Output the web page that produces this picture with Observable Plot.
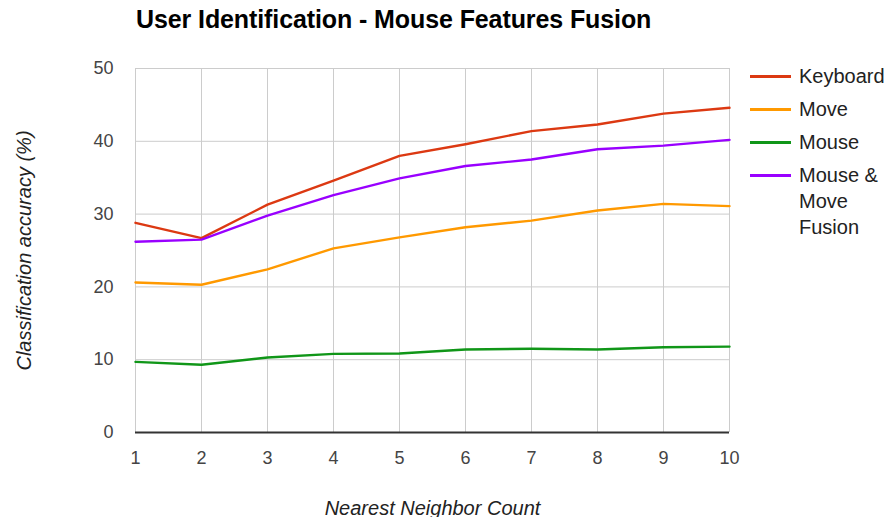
<!DOCTYPE html>
<html>
<head>
<meta charset="utf-8">
<script src="https://cdn.jsdelivr.net/npm/d3@7"></script>
<script src="https://cdn.jsdelivr.net/npm/@observablehq/plot@0.6"></script>
<style>
  html, body { margin: 0; padding: 0; background: #fff; }
  #wrap { position: relative; width: 888px; height: 517px; font-family: "Liberation Sans", Arial, sans-serif; }
  #title { position: absolute; left: 136px; top: 5px; font-size: 25px; font-weight: bold; color: #000; white-space: nowrap; letter-spacing: -0.1px; }
  #legend { position: absolute; left: 750px; top: 63px; font-size: 20px; color: #222; }
  .item { display: flex; align-items: flex-start; margin-bottom: 7px; }
  .sw { width: 41px; height: 3px; margin-top: 12px; margin-right: 8px; flex: none; }
  .lbl { line-height: 26px; }
</style>
</head>
<body>
<div id="wrap">
  <div id="chart"></div>
  <div id="title">User Identification - Mouse Features Fusion</div>
  <div id="legend"></div>
</div>
<script>
const neighbors = [1, 2, 3, 4, 5, 6, 7, 8, 9, 10];
const seriesNames = ["Keyboard", "Move", "Mouse", "Mouse & Move Fusion"];
const legendLabels = ["Keyboard", "Move", "Mouse", "Mouse &amp;<br>Move<br>Fusion"];
const colors = ["#dc3912", "#ff9900", "#109618", "#9900ff"];
const keyboard = [28.8, 26.7, 31.3, 34.6, 38.0, 39.6, 41.4, 42.3, 43.8, 44.6];
const move = [20.6, 20.3, 22.4, 25.3, 26.8, 28.2, 29.1, 30.5, 31.4, 31.1];
const mouse = [9.7, 9.3, 10.3, 10.8, 10.85, 11.4, 11.5, 11.4, 11.7, 11.8];
const fusion = [26.2, 26.5, 29.8, 32.6, 34.9, 36.6, 37.5, 38.9, 39.4, 40.2];
const yTicks = [0, 10, 20, 30, 40, 50];

const seriesValues = [keyboard, move, mouse, fusion];
const data = [];
seriesNames.forEach((name, i) => {
  neighbors.forEach((k, j) => data.push({ series: name, k, value: seriesValues[i][j] }));
});

const chart = Plot.plot({
  width: 888,
  height: 517,
  marginLeft: 135,
  marginRight: 159,
  marginTop: 68,
  marginBottom: 85,
  style: { fontFamily: "'Liberation Sans', Arial, sans-serif", fontSize: "18px", color: "#444", background: "#fff" },
  x: { domain: [1, 10], ticks: neighbors, label: null },
  y: { domain: [0, 50], ticks: yTicks, label: null },
  color: { domain: seriesNames, range: colors },
  marks: [
    Plot.gridX(neighbors, { stroke: "#cccccc", strokeOpacity: 1, strokeWidth: 1 }),
    Plot.gridY(yTicks, { stroke: "#cccccc", strokeOpacity: 1, strokeWidth: 1 }),
    Plot.axisX(neighbors, { tickSize: 0, tickPadding: 19, fontSize: 18, fill: "#444",
      label: "Nearest Neighbor Count", labelAnchor: "center", labelOffset: 82, labelArrow: "none" }),
    Plot.axisY(yTicks, { tickSize: 0, tickPadding: 22, fontSize: 18, fill: "#444",
      label: "Classification accuracy (%)", labelAnchor: "center", labelOffset: 119, labelArrow: "none" }),
    Plot.ruleY([0], { stroke: "#333", strokeWidth: 2 }),
    Plot.line(data, { x: "k", y: "value", z: "series", stroke: "series", strokeWidth: 2.4 })
  ]
});
// italicize axis labels
chart.querySelectorAll("[aria-label='x-axis label'] text, [aria-label='y-axis label'] text").forEach(t => {
  t.setAttribute("font-style", "italic");
  t.setAttribute("fill", "#222");
  t.setAttribute("font-size", "20");
});
document.getElementById("chart").appendChild(chart);

const legend = document.getElementById("legend");
seriesNames.forEach((name, i) => {
  const item = document.createElement("div");
  item.className = "item";
  item.innerHTML = `<div class="sw" style="background:${colors[i]}"></div><div class="lbl">${legendLabels[i]}</div>`;
  legend.appendChild(item);
});
</script>
</body>
</html>
